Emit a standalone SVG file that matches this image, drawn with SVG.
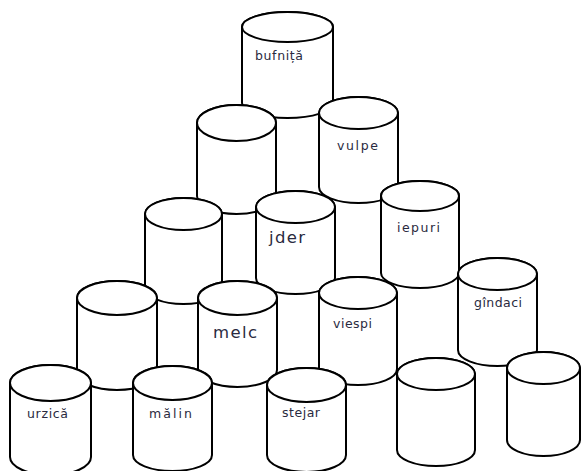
<svg xmlns="http://www.w3.org/2000/svg" width="581" height="471" viewBox="0 0 581 471">
<style>
.cyl{fill:#fff;stroke:#000;stroke-width:2}
.lbl{font-family:"DejaVu Sans","Liberation Sans",sans-serif;font-size:12.5px;fill:#2a2a40}
.big{font-size:16.5px}
</style>
<rect width="581" height="471" fill="#fff"/>
<g id="bufnita">
<path class="cyl" d="M242 27 V103 A45.5 15 0 0 0 333 103 V27 A45.5 15 0 0 0 242 27 Z"/>
<ellipse class="cyl" cx="287.5" cy="27" rx="45.5" ry="15"/>
<text class="lbl" x="255" y="60" textLength="48" lengthAdjust="spacing">bufniță</text>
</g>
<g id="cyl-r1-left">
<path class="cyl" d="M197 123 V196 A39.5 18 0 0 0 276 196 V123 A39.5 18 0 0 0 197 123 Z"/>
<ellipse class="cyl" cx="236.5" cy="123" rx="39.5" ry="18"/>
</g>
<g id="vulpe">
<path class="cyl" d="M319 113 V187 A39.5 16 0 0 0 398 187 V113 A39.5 16 0 0 0 319 113 Z"/>
<ellipse class="cyl" cx="358.5" cy="113" rx="39.5" ry="16"/>
<text class="lbl" x="337" y="150" textLength="41" lengthAdjust="spacing">vulpe</text>
</g>
<g id="cyl-r2-left">
<path class="cyl" d="M145 214 V288 A38.5 16 0 0 0 222 288 V214 A38.5 16 0 0 0 145 214 Z"/>
<ellipse class="cyl" cx="183.5" cy="214" rx="38.5" ry="16"/>
</g>
<g id="jder">
<path class="cyl" d="M256 207 V278 A39.5 16 0 0 0 335 278 V207 A39.5 16 0 0 0 256 207 Z"/>
<ellipse class="cyl" cx="295.5" cy="207" rx="39.5" ry="16"/>
<text class="lbl big" x="269" y="243" textLength="36" lengthAdjust="spacing">jder</text>
</g>
<g id="iepuri">
<path class="cyl" d="M381 196 V273 A39 15 0 0 0 459 273 V196 A39 15 0 0 0 381 196 Z"/>
<ellipse class="cyl" cx="420" cy="196" rx="39" ry="15"/>
<text class="lbl" x="397" y="232" textLength="43" lengthAdjust="spacing">iepuri</text>
</g>
<g id="cyl-r3-left">
<path class="cyl" d="M77 298 V373 A40 17 0 0 0 157 373 V298 A40 17 0 0 0 77 298 Z"/>
<ellipse class="cyl" cx="117" cy="298" rx="40" ry="17"/>
</g>
<g id="melc">
<path class="cyl" d="M198 298 V370 A39.5 17 0 0 0 277 370 V298 A39.5 17 0 0 0 198 298 Z"/>
<ellipse class="cyl" cx="237.5" cy="298" rx="39.5" ry="17"/>
<text class="lbl big" x="213" y="338" textLength="44" lengthAdjust="spacing">melc</text>
</g>
<g id="viespi">
<path class="cyl" d="M319 293 V369 A39 16 0 0 0 397 369 V293 A39 16 0 0 0 319 293 Z"/>
<ellipse class="cyl" cx="358" cy="293" rx="39" ry="16"/>
<text class="lbl" x="333" y="328" textLength="39" lengthAdjust="spacing">viespi</text>
</g>
<g id="gindaci">
<path class="cyl" d="M458 274 V350 A39.5 16 0 0 0 537 350 V274 A39.5 16 0 0 0 458 274 Z"/>
<ellipse class="cyl" cx="497.5" cy="274" rx="39.5" ry="16"/>
<text class="lbl" x="474" y="307" textLength="48" lengthAdjust="spacing">gîndaci</text>
</g>
<g id="urzica">
<path class="cyl" d="M10 383 V457 A40.5 18 0 0 0 91 457 V383 A40.5 18 0 0 0 10 383 Z"/>
<ellipse class="cyl" cx="50.5" cy="383" rx="40.5" ry="18"/>
<text class="lbl" x="27" y="418" textLength="41" lengthAdjust="spacing">urzică</text>
</g>
<g id="malin">
<path class="cyl" d="M133 383 V455 A39.5 16 0 0 0 212 455 V383 A39.5 17 0 0 0 133 383 Z"/>
<ellipse class="cyl" cx="172.5" cy="383" rx="39.5" ry="17"/>
<text class="lbl" x="149" y="418" textLength="43" lengthAdjust="spacing">mălin</text>
</g>
<g id="stejar">
<path class="cyl" d="M267 385 V455 A39.5 17 0 0 0 346 455 V385 A39.5 17 0 0 0 267 385 Z"/>
<ellipse class="cyl" cx="306.5" cy="385" rx="39.5" ry="17"/>
<text class="lbl" x="282" y="417" textLength="38" lengthAdjust="spacing">stejar</text>
</g>
<g id="cyl-r4-4">
<path class="cyl" d="M397 374 V450 A39 16 0 0 0 475 450 V374 A39 16 0 0 0 397 374 Z"/>
<ellipse class="cyl" cx="436" cy="374" rx="39" ry="16"/>
</g>
<g id="cyl-r4-5">
<path class="cyl" d="M507 368 V440 A36.5 16 0 0 0 580 440 V368 A36.5 16 0 0 0 507 368 Z"/>
<ellipse class="cyl" cx="543.5" cy="368" rx="36.5" ry="16"/>
</g>
</svg>
